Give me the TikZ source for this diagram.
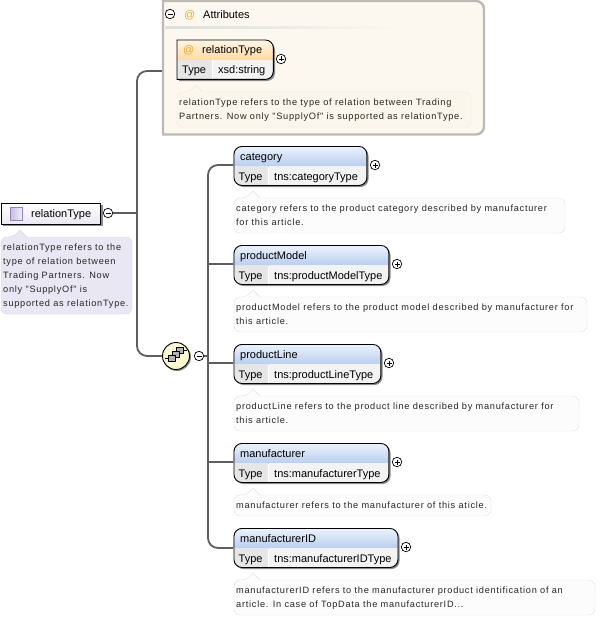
\documentclass[tikz,border=0pt]{standalone}
\usepackage{fontspec}
\setmainfont{Liberation Sans}
\newfontfamily\notefont[LetterSpace=8]{Liberation Sans}
\usetikzlibrary{shadings}

\definecolor{wirecol}{HTML}{5E5E5E}
\definecolor{shadecol}{HTML}{8A8A8A}
\definecolor{hdblueA}{HTML}{EEF3FC}
\definecolor{hdblueB}{HTML}{B9CEF0}
\definecolor{hdorgA}{HTML}{FFF6E6}
\definecolor{hdorgB}{HTML}{FFD9A3}
\definecolor{cellA}{HTML}{E6E6E6}
\definecolor{cellB}{HTML}{F3F3F3}
\definecolor{attrcol}{HTML}{FDF8EF}
\definecolor{attredge}{HTML}{BDBAB5}
\definecolor{attrnotecol}{HTML}{FBF6EC}
\definecolor{attrnoteedge}{HTML}{EDE7DB}
\definecolor{atcol}{HTML}{E8A82E}
\definecolor{rootfill}{HTML}{E9E7F3}
\definecolor{rootedge}{HTML}{D8D5E6}
\definecolor{iconA}{HTML}{C6BCE4}
\definecolor{iconB}{HTML}{F2F0F9}
\definecolor{iconedge}{HTML}{9585BC}
\definecolor{seqfill}{HTML}{FBF8D2}

\tikzset{
  wire/.style={draw=wirecol, line width=1.8pt},
  toggle/.style={circle, draw=black, fill=white, line width=0.7pt, minimum size=9.5pt, inner sep=0pt},
  title/.style={anchor=base west, inner sep=0pt, font=\fontsize{11}{13}\selectfont},
  cell/.style={anchor=base west, inner sep=0pt, font=\fontsize{11}{13}\selectfont},
  notetext/.style={anchor=north west, inner sep=0pt, align=left, font=\notefont\fontsize{9.2}{14}\selectfont, text=black!85},
  plainnote/.style={draw=black!12, fill=black!1},
  attrnote/.style={draw=attrnoteedge, fill=attrnotecol},
  rootnote/.style={draw=rootedge, fill=rootfill},
  seqbit/.style={draw=black, fill=gray!60, line width=0.6pt}
}

% plus and minus toggles
\newcommand\plusmark[1]{\draw[line width=0.7pt] ([xshift=-2.5pt]#1.center) -- ([xshift=2.5pt]#1.center) ([yshift=-2.5pt]#1.center) -- ([yshift=2.5pt]#1.center);}
\newcommand\minusmark[1]{\draw[line width=0.7pt] ([xshift=-2.5pt]#1.center) -- ([xshift=2.5pt]#1.center);}

% name, x, y, width, title, type
\newcommand\elembox[6]{
  \fill[shadecol, rounded corners=8pt] ({#2+2},{#3+2}) rectangle ++(#4,39);
  \begin{scope}
    \clip[rounded corners=8pt] (#2,#3) rectangle ++(#4,39);
    \fill[white] (#2,#3) rectangle ++(#4,39);
    \shade[top color=hdblueA, bottom color=hdblueB] (#2,#3) rectangle ++(#4,20);
    \fill[cellA] (#2,{#3+20}) rectangle ++(34,19);
    \fill[cellB] ({#2+35},{#3+20}) rectangle ({#2+#4},{#3+39});
  \end{scope}
  \node (#1) [draw=black, line width=0.9pt, rounded corners=8pt, anchor=north west, minimum width=#4, minimum height=39, inner sep=0pt] at (#2,#3) {};
  \node (#1Title) [title] at ({#2+6.5},{#3+14}) {#5};
  \node (#1Key) [cell] at ({#2+5},{#3+34}) {Type};
  \node (#1Val) [cell] at ({#2+40.5},{#3+34}) {#6};
  \node (#1Plus) [toggle] at ({#2+#4+8.5},{#3+19}) {};
  \plusmark{#1Plus}
}

% name, x, y, width, height, style, text
\newcommand\notebox[7]{
  \draw[#6, rounded corners=6pt] (#2,{#3+#5}) |- ({#2+13},#3) [sharp corners] -- ({#2+19},{#3-7}) -- ({#2+26},#3) [rounded corners=6pt] -| ({#2+#4},{#3+#5}) -| cycle;
  \node (#1) [notetext] at ({#2+2},{#3+6.5}) {#7};
}

\begin{document}
\begin{tikzpicture}[x=1pt, y=-1pt]
  \useasboundingbox (0,0) rectangle (603,618);

  % root
  \coordinate (rootJoin) at (137,213);
  \coordinate (attrsIn) at (162,71);
  \fill[shadecol] (3,205) rectangle (103,226);
  \node (rootBox) [draw=black, line width=0.9pt, top color=white, bottom color=rootfill, anchor=north west, minimum width=99, minimum height=21, inner sep=0pt] at (1,203) {};
  \node (rootIcon) [draw=iconedge, line width=0.9pt, left color=iconA, right color=iconB, anchor=north west, minimum width=12, minimum height=13, inner sep=0pt] at (10,207) {};
  \node (rootTitle) [title] at (31,217) {relationType};
  \node (rootMinus) [toggle] at (108,213) {};
  \minusmark{rootMinus}
  \notebox{rootNote}{1}{237}{131}{77}{rootnote}{relationType refers to the\\type of relation between\\Trading Partners. Now\\only "SupplyOf" is\\supported as relationType.}

  % attributes
  \draw[draw=attredge, line width=2.4pt, fill=attrcol] (163,1) -- (163,134.5) -- (474,134.5) [rounded corners=8pt] -- (484,134.5) -- (484,1) [sharp corners] -- cycle;
  \node (attrsMinus) [toggle] at (170,14) {};
  \minusmark{attrsMinus}
  \node (attrsAt) [title, text=atcol] at (184,19) {@};
  \node (attrsTitle) [title] at (203,19) {Attributes};
  \shade[left color=black!13, right color=attrcol] (165,27) rectangle (405,29);

  \fill[shadecol] (179,42) -- (265,42) [rounded corners=8pt] -- (275,42) -- (275,81) [sharp corners] -- (179,81) -- cycle;
  \begin{scope}
    \clip (177,40) -- (263,40) [rounded corners=8pt] -- (273,40) -- (273,79) [sharp corners] -- (177,79) -- cycle;
    \fill[white] (177,40) rectangle (273,79);
    \shade[top color=hdorgA, bottom color=hdorgB] (177,40) rectangle (273,60);
    \fill[cellA] (177,60) rectangle (212,79);
    \fill[cellB] (213,60) rectangle (273,79);
  \end{scope}
  \node (typeBox) [minimum width=96, minimum height=39, anchor=north west, inner sep=0pt] at (177,40) {};
  \draw[line width=0.9pt] (typeBox.north west) -- (263,40) [rounded corners=8pt] -- (typeBox.north east) -- (typeBox.south east) [sharp corners] -- (typeBox.south west) -- cycle;
  \node (typeAt) [title, text=atcol] at (183,54) {@};
  \node (typeTitle) [title] at (202,54) {relationType};
  \node (typeKey) [cell] at (182,74) {Type};
  \node (typeVal) [cell] at (218,74) {xsd:string};
  \node (typePlus) [toggle] at (281,59) {};
  \plusmark{typePlus}
  \notebox{typeNote}{177}{92}{294}{35}{attrnote}{relationType refers to the type of relation between Trading\\Partners. Now only "SupplyOf" is supported as relationType.}

  % sequence
  \fill[shadecol] (177,357) circle (14pt);
  \node (seqNode) [circle, draw=black, line width=0.9pt, fill=seqfill, minimum size=27pt, inner sep=0pt] at (176,356) {};
  \draw[black, line width=0.7pt] (165,358) -- (168,358) (183,350) -- (187,350);
  \draw[seqbit] (176,347) rectangle (183,353);
  \draw[seqbit] (172,351) rectangle (179,357);
  \draw[seqbit] (168,355) rectangle (175,361);
  \node (seqMinus) [toggle] at (199,356) {};
  \minusmark{seqMinus}

  % children
  \elembox{category}{233.5}{146}{133}{category}{tns:categoryType}
  \notebox{categoryNote}{234}{198}{331}{35}{plainnote}{category refers to the product category described by manufacturer\\for this article.}
  \elembox{productModel}{233.5}{245}{155}{productModel}{tns:productModelType}
  \notebox{productModelNote}{234}{297}{353}{35}{plainnote}{productModel refers to the product model described by manufacturer for\\this article.}
  \elembox{productLine}{233.5}{344}{147}{productLine}{tns:productLineType}
  \notebox{productLineNote}{234}{396}{345}{35}{plainnote}{productLine refers to the product line described by manufacturer for\\this article.}
  \elembox{manufacturer}{233.5}{443}{155}{manufacturer}{tns:manufacturerType}
  \notebox{manufacturerNote}{234}{495}{257}{21}{plainnote}{manufacturer refers to the manufacturer of this aticle.}
  \elembox{manufacturerID}{233.5}{528}{164}{manufacturerID}{tns:manufacturerIDType}
  \notebox{manufacturerIDNote}{234}{580}{361}{35}{plainnote}{manufacturerID refers to the manufacturer product identification of an\\article. In case of TopData the manufacturerID...}

  % connectors
  \coordinate (seqJoin) at (208,356);
  \coordinate (catIn) at (233,165);
  \coordinate (modelIn) at (233,264);
  \coordinate (lineIn) at (233,363);
  \coordinate (makerIn) at (233,462);
  \coordinate (makerIdIn) at (233,548);
  \draw[wire] (rootMinus) -- (rootJoin);
  \draw[wire, rounded corners=10pt] (attrsIn) -| (rootJoin) |- (seqNode);
  \draw[wire] (seqMinus) -- (seqJoin);
  \draw[wire, rounded corners=10pt] (catIn) -| (seqJoin) |- (makerIdIn);
  \draw[wire] (seqJoin |- modelIn) -- (modelIn);
  \draw[wire] (seqJoin |- lineIn) -- (lineIn);
  \draw[wire] (seqJoin |- makerIn) -- (makerIn);
\end{tikzpicture}
\end{document}
